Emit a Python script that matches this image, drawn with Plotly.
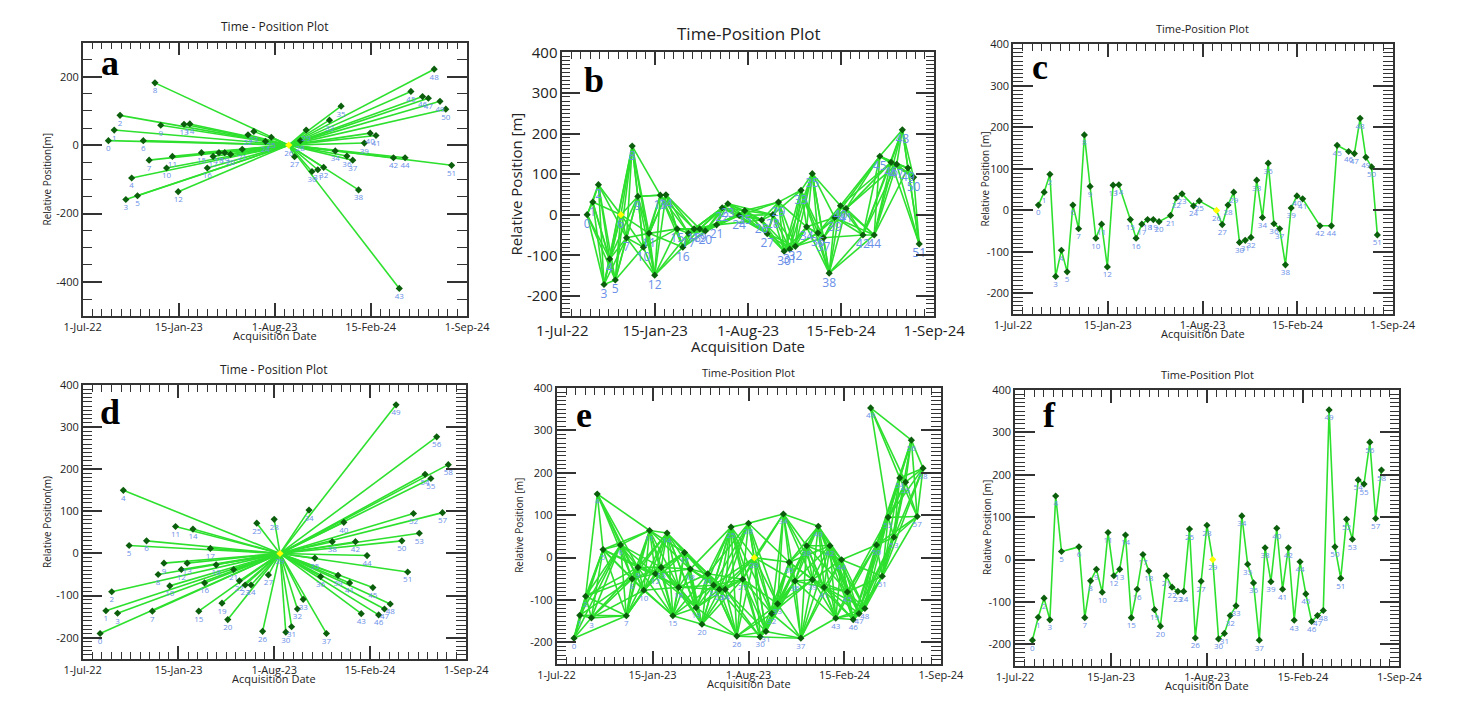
import plotly.graph_objects as go
import pandas as pd

# ---------------- data ----------------
# Dataset 1 (panels a, b, c)
dates1 = ["2022-08-23", "2022-09-04", "2022-09-16", "2022-09-28", "2022-10-10", "2022-10-22",
          "2022-11-03", "2022-11-15", "2022-11-27", "2022-12-09", "2022-12-21", "2023-01-02",
          "2023-01-14", "2023-01-26", "2023-02-07", "2023-03-03", "2023-03-15", "2023-03-27",
          "2023-04-08", "2023-04-20", "2023-05-02", "2023-05-26", "2023-06-07", "2023-06-19",
          "2023-07-13", "2023-07-25", "2023-08-30", "2023-09-11", "2023-09-23", "2023-10-05",
          "2023-10-17", "2023-10-29", "2023-11-10", "2023-11-22", "2023-12-04", "2023-12-16",
          "2023-12-28", "2024-01-09", "2024-01-21", "2024-02-02", "2024-02-14", "2024-02-26",
          "2024-04-02", "2024-04-14", "2024-04-26", "2024-05-08", "2024-06-01", "2024-06-13",
          "2024-06-25", "2024-07-07", "2024-07-19", "2024-07-31"]
pos1 = [13, 44, 87, -159, -96, -148, 13, -44, 182, 58, -67, -33, -136, 61, 62, -22, -67, -33,
        -22, -22, -27, -12, 30, 40, 11, 23, 0, -34, 13, 44, -77, -72, -65, 73, -17, 114,
        -32, -44, -131, 6, 35, 28, -37, -419, -37, 157, 142, 137, 222, 128, 105, -59]
master1 = 26          # reference acquisition in a and c
master1_b = 6         # reference acquisition in b
excluded1_bc = [43]   # acquisition not used in b and c
neighbours_b = 5
max_baseline_b = 1000

# Dataset 2 (panels d, e, f)
dates2 = ["2022-08-06", "2022-08-18", "2022-08-30", "2022-09-11", "2022-09-23", "2022-10-05",
          "2022-11-10", "2022-11-22", "2022-12-04", "2022-12-16", "2022-12-28", "2023-01-09",
          "2023-01-21", "2023-02-02", "2023-02-14", "2023-02-26", "2023-03-10", "2023-03-22",
          "2023-04-03", "2023-04-15", "2023-04-27", "2023-05-09", "2023-05-21", "2023-06-02",
          "2023-06-14", "2023-06-26", "2023-07-08", "2023-07-20", "2023-08-01", "2023-08-13",
          "2023-08-25", "2023-09-06", "2023-09-18", "2023-09-30", "2023-10-12", "2023-10-24",
          "2023-11-05", "2023-11-17", "2023-11-29", "2023-12-11", "2023-12-23", "2024-01-04",
          "2024-01-16", "2024-01-28", "2024-02-09", "2024-02-21", "2024-03-04", "2024-03-16",
          "2024-03-28", "2024-04-09", "2024-04-21", "2024-05-03", "2024-05-15", "2024-05-27",
          "2024-06-08", "2024-06-20", "2024-07-02", "2024-07-14", "2024-07-26"]
pos2 = [-190, -136, -91, -142, 150, 19, 30, -137, -50, -23, -77, 64, -38, -23, 58, -137, -70,
        12, -27, -118, -157, -38, -65, -75, -75, 72, -185, -51, 81, 0, -187, -174, -132, -109,
        103, -11, -55, -190, 28, -52, 74, -70, 28, -143, -5, -81, -146, -132, -120, 353, 30,
        -44, 95, 48, 188, 178, 277, 97, 211]
master2 = 29
neighbours_e = 7
max_baseline_e = 260

x_tickvals = ["2022-07-01", "2023-01-15", "2023-08-01", "2024-02-15", "2024-09-01"]
x_ticktext = ["1-Jul-22", "15-Jan-23", "1-Aug-23", "15-Feb-24", "1-Sep-24"]

# ---------------- style ----------------
W, H = 1465, 704
LINE = "#2EE02E"
MARK = "#0B5E0B"
LAB = "#6A8FE8"
AX = "#333333"

panels = {
    "a": dict(box=(59, 32, 459, 310), fs=11, lab=8, title="Time - Position Plot", tfs=12,
              ytitle="Relative Position[m]", ytx=22, let=(87, 53)),
    "b": dict(box=(558, 42, 945, 310), fs=15, lab=12, title="Time-Position Plot", tfs=17,
              ytitle="Relative Position [m]", ytx=510, let=(591, 70)),
    "c": dict(box=(1027, 34, 1422, 308), fs=11, lab=8, title="Time-Position Plot", tfs=11,
              ytitle="Relative Position [m]", ytx=998, let=(1055, 57)),
    "d": dict(box=(59, 380, 458, 658), fs=11, lab=8, title="Time - Position Plot", tfs=12,
              ytitle="Relative Position(m)", ytx=22, let=(87, 407)),
    "e": dict(box=(552, 383, 952, 663), fs=11, lab=8, title="Time-Position Plot", tfs=11,
              ytitle="Relative Position [m]", ytx=513, let=(581, 410)),
    "f": dict(box=(1029, 385, 1429, 665), fs=11, lab=8, title="Time-Position Plot", tfs=11,
              ytitle="Relative Position [m]", ytx=1000, let=(1065, 410)),
}
order = ["a", "b", "c", "d", "e", "f"]

maj = pd.to_datetime(x_tickvals)
minor_x = []
for t0, t1 in zip(maj[:-1], maj[1:]):
    for k in range(1, 10):
        minor_x.append((t0 + (t1 - t0) * k / 10).strftime("%Y-%m-%d %H:%M"))

fig = go.Figure()


def refs(i):
    return ("x" if i == 0 else f"x{i+1}"), ("y" if i == 0 else f"y{i+1}")


def add_lines(i, xs, ys):
    xr, yr = refs(i)
    fig.add_trace(go.Scatter(x=xs, y=ys, mode="lines", xaxis=xr, yaxis=yr,
                             line=dict(color=LINE, width=1.6), hoverinfo="skip", showlegend=False))


def add_points(i, dates, vals, idxs, master, labsize):
    xr, yr = refs(i)
    normal = [j for j in idxs if j != master]
    fig.add_trace(go.Scatter(x=[dates[j] for j in normal], y=[vals[j] for j in normal],
                             mode="markers+text", text=[str(j) for j in normal],
                             textposition="bottom center",
                             textfont=dict(family="Open Sans", size=labsize, color=LAB),
                             marker=dict(symbol="diamond", size=5.5, color=MARK),
                             xaxis=xr, yaxis=yr, showlegend=False))
    fig.add_trace(go.Scatter(x=[dates[master]], y=[vals[master]], mode="markers+text",
                             text=[str(master)], textposition="bottom center",
                             textfont=dict(family="Open Sans", size=labsize, color=LAB),
                             marker=dict(symbol="diamond", size=5.5, color="#FFFF00"),
                             xaxis=xr, yaxis=yr, showlegend=False))


def star(i, dates, vals, master, labsize):
    xs, ys = [], []
    for j in range(len(vals)):
        if j == master:
            continue
        xs += [dates[master], dates[j], None]
        ys += [vals[master], vals[j], None]
    add_lines(i, xs, ys)
    add_points(i, dates, vals, list(range(len(vals))), master, labsize)


def path(i, dates, vals, idxs, master, labsize):
    add_lines(i, [dates[j] for j in idxs], [vals[j] for j in idxs])
    add_points(i, dates, vals, idxs, master, labsize)


def network(i, dates, vals, idxs, master, nb, maxb, labsize):
    xs, ys = [], []
    for p in range(len(idxs)):
        for q in range(p + 1, min(p + 1 + nb, len(idxs))):
            a, b = idxs[p], idxs[q]
            if abs(vals[a] - vals[b]) > maxb:
                continue
            xs += [dates[a], dates[b], None]
            ys += [vals[a], vals[b], None]
    add_lines(i, xs, ys)
    add_points(i, dates, vals, idxs, master, labsize)


idx1 = [j for j in range(len(pos1)) if j not in excluded1_bc]
pos1_b = [v - pos1[master1_b] for v in pos1]
idx2 = list(range(len(pos2)))

star(0, dates1, pos1, master1, panels["a"]["lab"])
network(1, dates1, pos1_b, idx1, master1_b, neighbours_b, max_baseline_b, panels["b"]["lab"])
path(2, dates1, pos1, idx1, master1, panels["c"]["lab"])
star(3, dates2, pos2, master2, panels["d"]["lab"])
network(4, dates2, pos2, idx2, master2, neighbours_e, max_baseline_e, panels["e"]["lab"])
path(5, dates2, pos2, idx2, master2, panels["f"]["lab"])

annotations = []
layout = dict(width=W, height=H, margin=dict(l=0, r=0, t=0, b=0),
              paper_bgcolor="white", plot_bgcolor="white", showlegend=False)

for i, key in enumerate(order):
    p = panels[key]
    x0, y0, x1, y1 = p["box"]
    xname = "xaxis" if i == 0 else f"xaxis{i+1}"
    yname = "yaxis" if i == 0 else f"yaxis{i+1}"
    xr, yr = refs(i)
    big = key == "b"
    layout[xname] = dict(
        domain=[x0 / W, x1 / W], anchor=yr, type="date",
        range=["2022-07-01", "2024-09-01"], tickmode="array",
        tickvals=x_tickvals, ticktext=x_ticktext,
        ticks="inside", ticklen=13, tickwidth=1.5, tickcolor=AX,
        minor=dict(tickmode="array", tickvals=minor_x, ticks="inside", ticklen=7,
                   tickwidth=1, tickcolor=AX, showgrid=False),
        showline=True, linecolor=AX, linewidth=1.5, mirror="allticks",
        showgrid=False, zeroline=False,
        tickfont=dict(family="Open Sans", size=p["fs"], color="#222"))
    if key == "a":
        yr_rng, yt, ymin = [-500, 300], [-400, -200, 0, 200], 50
    else:
        yr_rng, yt, ymin = [-250, 400], [-200, -100, 0, 100, 200, 300, 400], 10
    layout[yname] = dict(
        domain=[1 - y1 / H, 1 - y0 / H], anchor=xr, range=yr_rng,
        tickmode="array", tickvals=yt, ticktext=[str(v) for v in yt],
        ticks="inside", ticklen=18 if big else 20, tickwidth=1.5, tickcolor=AX,
        minor=dict(dtick=ymin, tick0=0, ticks="inside", ticklen=8 if big else 10,
                   tickwidth=1, tickcolor=AX, showgrid=False),
        showline=True, linecolor=AX, linewidth=1.5, mirror="allticks",
        showgrid=False, zeroline=False,
        tickfont=dict(family="Open Sans", size=p["fs"], color="#222"))

    cx = (x0 + x1) / 2
    cy = (y0 + y1) / 2
    # title
    annotations.append(dict(text=p["title"], x=cx / W, y=1 - (y0 - (19 if big else 16)) / H,
                            xref="paper", yref="paper", showarrow=False,
                            xanchor="center", yanchor="middle",
                            font=dict(family="Open Sans", size=p["tfs"], color="#222")))
    # x title
    annotations.append(dict(text="Acquisition Date", x=cx / W,
                            y=1 - (y1 + (30 if big else 20)) / H,
                            xref="paper", yref="paper", showarrow=False,
                            xanchor="center", yanchor="middle",
                            font=dict(family="Open Sans", size=15 if big else 11, color="#222")))
    # y title
    annotations.append(dict(text=p["ytitle"], x=p["ytx"] / W, y=1 - cy / H,
                            xref="paper", yref="paper", showarrow=False, textangle=-90,
                            xanchor="center", yanchor="middle",
                            font=dict(family="Open Sans", size=15 if big else 10, color="#222")))
    # panel letter
    lx, ly = p["let"]
    annotations.append(dict(text="<b>%s</b>" % key, x=lx / W, y=1 - ly / H,
                            xref="paper", yref="paper", showarrow=False,
                            xanchor="center", yanchor="middle",
                            font=dict(family="Liberation Serif", size=36, color="black")))

layout["annotations"] = annotations
fig.update_layout(**layout)
fig.write_html("out.html")
